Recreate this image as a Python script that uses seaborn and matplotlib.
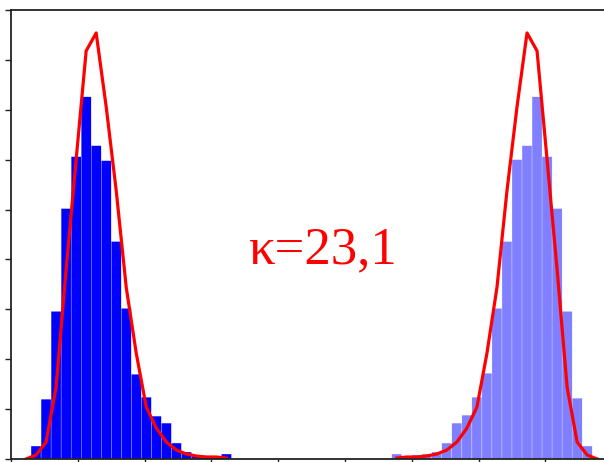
import numpy as np
import pandas as pd
import matplotlib
matplotlib.use("Agg")
import matplotlib.pyplot as plt
import seaborn as sns

# Histogram bins (bin width 0.3)
left_edges = [0.6 + 0.3 * i for i in range(21)]
right_edges = [11.4 + 0.3 * i for i in range(21)]

left_counts = [13, 60, 148, 251, 303, 363, 314, 299, 218, 151,
               85, 62, 43, 36, 16, 7, 4, 3, 3, 5]
right_counts = [5, 3, 4, 5, 7, 16, 36, 44, 62, 86,
                151, 218, 300, 314, 363, 303, 251, 148, 61, 13]

# Fitted density curves, evaluated at bin centres
left_curve_x = [0.45, 0.75, 1.05, 1.35, 1.65, 1.95, 2.25, 2.55, 2.85, 3.15, 3.45,
                3.75, 4.05, 4.35, 4.65, 4.95, 5.25, 5.55, 5.85, 6.15, 6.45]
left_curve_y = [0, 4, 17, 72, 190, 300, 409, 427, 353, 269, 172,
                106, 52, 31, 17, 9, 5, 3, 2, 2, 1]
right_curve_x = [11.55, 11.85, 12.15, 12.45, 12.75, 13.05, 13.35, 13.65, 13.95, 14.25, 14.55,
                 14.85, 15.15, 15.45, 15.75, 16.05, 16.35, 16.65, 16.95, 17.25, 17.55]
right_curve_y = [1, 2, 2, 3, 5, 9, 17, 31, 52, 106, 172,
                 269, 353, 427, 409, 300, 190, 72, 17, 4, 0]

x_ticks = [0, 2, 4, 6, 8, 10, 12, 14, 16]
y_ticks = [0, 50, 100, 150, 200, 250, 300, 350, 400, 450]
label = "κ=23,1"

fig = plt.figure(figsize=(6.04, 4.62), dpi=100)
ax = fig.add_axes([11 / 604, 3 / 462, 593 / 604, 449 / 462])

def centers(edges):
    return [(a + b) / 2 for a, b in zip(edges[:-1], edges[1:])]

left_df = pd.DataFrame({"x": centers(left_edges), "w": left_counts})
right_df = pd.DataFrame({"x": centers(right_edges), "w": right_counts})

sns.histplot(data=left_df, x="x", weights="w", bins=left_edges, color="#0000ff",
             alpha=1.0, edgecolor="white", linewidth=0.2, snap=False, ax=ax)
sns.histplot(data=right_df, x="x", weights="w", bins=right_edges, color="#0000ff",
             alpha=0.5, edgecolor="white", linewidth=0.2, snap=False, ax=ax)

sns.lineplot(x=left_curve_x, y=left_curve_y, color="#ff0000", linewidth=2.3, ax=ax)
sns.lineplot(x=right_curve_x, y=right_curve_y, color="#ff0000", linewidth=2.3, ax=ax)

ax.text(9.35, 196, label, color="#ff0000", fontsize=38,
        family=["Liberation Serif", "DejaVu Serif"], ha="center", va="baseline")

ax.set_xlim(0, 593 / 33.4)
ax.set_ylim(0, 450)
ax.set_xticks(x_ticks)
ax.set_yticks(y_ticks)
ax.set_xticklabels([])
ax.set_yticklabels([])
ax.set_xlabel("")
ax.set_ylabel("")
ax.tick_params(direction="out", length=4, width=1, color="#222222")
ax.spines["right"].set_visible(False)
for s in ["left", "top", "bottom"]:
    ax.spines[s].set_linewidth(1.3)
    ax.spines[s].set_color("#222222")

fig.savefig("out.png", dpi=100)
